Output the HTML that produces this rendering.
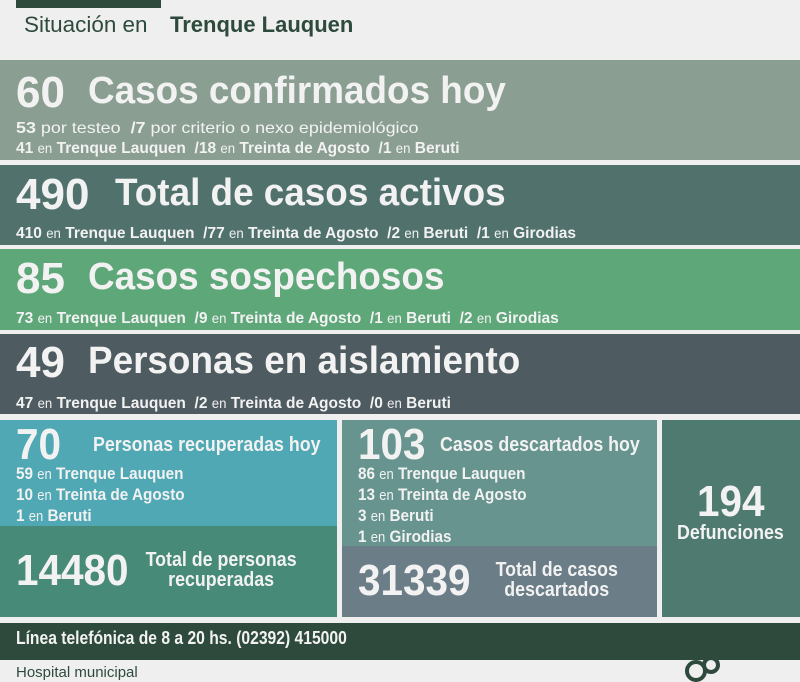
<!DOCTYPE html>
<html><head><meta charset="utf-8"><style>
body{margin:0;width:800px;height:675px;overflow:hidden;background:#efefef;font-family:"Liberation Sans",sans-serif;position:relative}
div{position:absolute}
.t{white-space:nowrap;color:#f2f2f2;font-weight:bold;transform-origin:0 0}
.s{font-weight:normal;font-size:0.85em}
</style></head><body>
<div style="left:16px;top:0;width:145px;height:8px;background:#2e4a3c"></div>
<div class="t" style="left:24px;top:12px;font-size:22px;color:#2e4a3c;font-weight:normal;transform:scaleX(1.02)">Situación en</div>
<div class="t" style="left:170px;top:12px;font-size:22px;color:#2e4a3c;transform:scaleX(1.0)">Trenque Lauquen</div>

<div style="left:0;top:60px;width:800px;height:100px;background:#8a9e92"></div>
<div class="t" style="left:16px;top:68px;font-size:44px">60</div>
<div class="t" style="left:88px;top:70px;font-size:38px;transform:scaleX(0.97)">Casos confirmados hoy</div>
<div class="t" style="left:16px;top:120px;font-size:16px;transform:scaleX(1.12)">53 <span style="font-weight:normal">por testeo</span> &nbsp;/7 <span style="font-weight:normal">por criterio o nexo epidemiológico</span></div>
<div class="t" style="left:16px;top:140px;font-size:16px;transform:scaleX(0.97)">41 <span class="s">en</span> Trenque Lauquen &nbsp;/18 <span class="s">en</span> Treinta de Agosto &nbsp;/1 <span class="s">en</span> Beruti</div>

<div style="left:0;top:165px;width:800px;height:80px;background:#51716d"></div>
<div class="t" style="left:16px;top:170px;font-size:44px">490</div>
<div class="t" style="left:115px;top:172px;font-size:38px;transform:scaleX(0.97)">Total de casos activos</div>
<div class="t" style="left:16px;top:225px;font-size:16px;transform:scaleX(0.97)">410 <span class="s">en</span> Trenque Lauquen &nbsp;/77 <span class="s">en</span> Treinta de Agosto &nbsp;/2 <span class="s">en</span> Beruti &nbsp;/1 <span class="s">en</span> Girodias</div>

<div style="left:0;top:249px;width:800px;height:81px;background:#5ea779"></div>
<div class="t" style="left:16px;top:254px;font-size:44px">85</div>
<div class="t" style="left:88px;top:256px;font-size:38px;transform:scaleX(0.97)">Casos sospechosos</div>
<div class="t" style="left:16px;top:310px;font-size:16px;transform:scaleX(0.97)">73 <span class="s">en</span> Trenque Lauquen &nbsp;/9 <span class="s">en</span> Treinta de Agosto &nbsp;/1 <span class="s">en</span> Beruti &nbsp;/2 <span class="s">en</span> Girodias</div>

<div style="left:0;top:334px;width:800px;height:80px;background:#4e5b61"></div>
<div class="t" style="left:16px;top:338px;font-size:44px">49</div>
<div class="t" style="left:88px;top:340px;font-size:38px;transform:scaleX(0.97)">Personas en aislamiento</div>
<div class="t" style="left:16px;top:395px;font-size:16px;transform:scaleX(0.97)">47 <span class="s">en</span> Trenque Lauquen &nbsp;/2 <span class="s">en</span> Treinta de Agosto &nbsp;/0 <span class="s">en</span> Beruti</div>

<div style="left:0;top:420px;width:337px;height:106px;background:#4fa8b3"></div>
<div style="left:0;top:526px;width:337px;height:91px;background:#478a78"></div>
<div style="left:342px;top:420px;width:315px;height:126px;background:#67948f"></div>
<div style="left:342px;top:546px;width:315px;height:71px;background:#6b7d87"></div>
<div style="left:662px;top:420px;width:138px;height:197px;background:#4f7a6f"></div>

<div class="t" style="left:16px;top:420px;font-size:44px;transform:scaleX(0.92)">70</div>
<div class="t" style="left:93px;top:434px;font-size:20px;transform:scaleX(0.89)">Personas recuperadas hoy</div>
<div class="t" style="left:16px;top:464px;font-size:17px;line-height:20px;transform:scaleX(0.9)">59 <span class="s">en</span> Trenque Lauquen<br>10 <span class="s">en</span> Treinta de Agosto<br>1 <span class="s">en</span> Beruti</div>
<div class="t" style="left:16px;top:546px;font-size:44px;transform:scaleX(0.92)">14480</div>
<div class="t" style="left:141px;top:550px;font-size:20px;line-height:20px;text-align:center;width:180px;transform:scaleX(0.89)">Total de personas<br>recuperadas</div>

<div class="t" style="left:358px;top:420px;font-size:44px;transform:scaleX(0.92)">103</div>
<div class="t" style="left:440px;top:434px;font-size:20px;transform:scaleX(0.89)">Casos descartados hoy</div>
<div class="t" style="left:358px;top:464px;font-size:17px;line-height:20px;transform:scaleX(0.9)">86 <span class="s">en</span> Trenque Lauquen<br>13 <span class="s">en</span> Treinta de Agosto<br>3 <span class="s">en</span> Beruti<br>1 <span class="s">en</span> Girodias</div>
<div class="t" style="left:358px;top:556px;font-size:44px;transform:scaleX(0.92)">31339</div>
<div class="t" style="left:490px;top:560px;font-size:20px;line-height:20px;text-align:center;width:150px;transform:scaleX(0.89)">Total de casos<br>descartados</div>

<div class="t" style="left:697px;top:477px;font-size:44px;transform:scaleX(0.92)">194</div>
<div class="t" style="left:677px;top:522px;font-size:20px;transform:scaleX(0.89)">Defunciones</div>

<div style="left:0;top:623px;width:800px;height:37px;background:#2e4a3c"></div>
<div class="t" style="left:16px;top:628px;font-size:18px;transform:scaleX(0.87)">Línea telefónica de 8 a 20 hs. (02392) 415000</div>
<div class="t" style="left:16px;top:664px;font-size:15px;color:#2e4a3c;font-weight:normal">Hospital municipal</div>
<div style="left:685px;top:660px;width:14px;height:14px;border:4px solid #2e4a3c;border-radius:50%"></div>
<div style="left:702px;top:656px;width:10px;height:10px;border:4px solid #2e4a3c;border-radius:50%"></div>
</body></html>
